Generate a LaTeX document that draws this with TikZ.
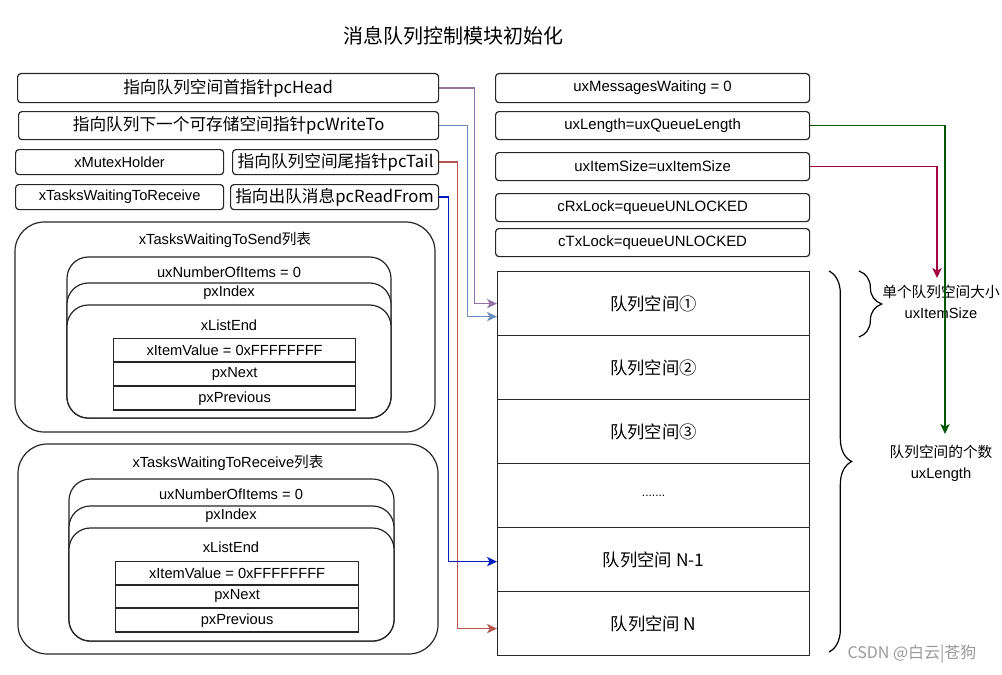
\documentclass[tikz,border=0pt]{standalone}
\usepackage{fontspec}
\setmainfont{Liberation Sans}
\newfontfamily\cjk{Noto Sans CJK SC}
\usetikzlibrary{arrows.meta,decorations.pathreplacing}

\definecolor{cpurple}{HTML}{9673A6}
\definecolor{cblue}{HTML}{6C8EBF}
\definecolor{cred}{HTML}{B85450}
\definecolor{cdblue}{HTML}{001DBC}
\definecolor{cgreen}{HTML}{005700}
\definecolor{ccrimson}{HTML}{A50040}

\begin{document}
\begin{tikzpicture}[x=0.75pt,y=0.75pt,yscale=-1,xscale=1,
  ptrbox/.style={draw=black!85,line width=0.9pt,rounded corners=2.5pt,inner sep=0pt,anchor=north west,font=\cjk\fontsize{12.5}{14}\selectfont},
  fldbox/.style={draw=black!85,line width=0.9pt,rounded corners=2.5pt,inner sep=0pt,anchor=north west,minimum width=235.5pt,minimum height=21pt,font=\fontsize{11.2}{13}\selectfont},
  qcell/.style={draw=black!85,line width=0.9pt,inner sep=0pt,anchor=north west,minimum width=234pt,minimum height=48pt,font=\cjk\fontsize{13}{15}\selectfont},
  itemrow/.style={draw=black!85,line width=0.9pt,inner sep=0pt,anchor=north west,minimum height=17.6pt,font=\fontsize{11}{13}\selectfont},
  lbl/.style={inner sep=0pt,font=\fontsize{11}{13}\selectfont},
  ptrlink/.style={line width=1pt,-{Stealth[length=7.5pt,width=7pt,inset=2pt]}}
]
\useasboundingbox (0,0) rectangle (1002,674);

%Title
\node (title) at (453,36) {\cjk\fontsize{15}{17}\selectfont 消息队列控制模块初始化};

%Pointer boxes
\node[ptrbox,minimum width=315.75pt,minimum height=21.75pt] (head) at (17,73) {指向队列空间首指针pcHead};
\node[ptrbox,minimum width=315pt,minimum height=21pt] (wrto) at (18,111) {指向队列下一个可存储空间指针pcWriteTo};
\node[ptrbox,minimum width=156pt,minimum height=18.75pt,font=\fontsize{11}{13}\selectfont] (mutex) at (15,149) {xMutexHolder};
\node[ptrbox,minimum width=154.5pt,minimum height=18.75pt] (tail) at (232,149) {指向队列空间尾指针pcTail};
\node[ptrbox,minimum width=156pt,minimum height=18.75pt,font=\fontsize{11}{13}\selectfont] (rcv) at (15,184) {xTasksWaitingToReceive};
\node[ptrbox,minimum width=156pt,minimum height=18.75pt] (rdfrom) at (230,184) {指向出队消息pcReadFrom};

%Field boxes
\node[fldbox,minimum height=21.75pt] (msg) at (495,73) {uxMessagesWaiting = 0};
\node[fldbox] (len) at (495,111) {uxLength=uxQueueLength};
\node[fldbox] (isz) at (495,152) {uxItemSize=uxItemSize};
\node[fldbox] (rxl) at (495,193) {cRxLock=queueUNLOCKED};
\node[fldbox] (txl) at (495,228) {cTxLock=queueUNLOCKED};

%Queue storage
\node[qcell] (q1) at (497,271) {队列空间①};
\node[qcell] (q2) at (497,335) {队列空间②};
\node[qcell] (q3) at (497,399) {队列空间③};
\node[qcell,font=\fontsize{9}{11}\selectfont] (q4) at (497,463) {.......};
\node[qcell] (q5) at (497,527) {队列空间 N-1};
\node[qcell] (q6) at (497,591) {队列空间 N};

%Send list
\draw[line width=0.9pt,draw=black!85,rounded corners=22pt] (15,222) rectangle (435,432);
\node[lbl] (sndttl) at (225,240) {xTasksWaitingToSend{\cjk 列表}};
\draw[line width=0.9pt,draw=black!85,fill=white,rounded corners=16pt] (67,257) rectangle (391,418);
\draw[line width=0.9pt,draw=black!85,fill=white,rounded corners=16pt] (67,283) rectangle (391,418);
\draw[line width=0.9pt,draw=black!85,fill=white,rounded corners=16pt] (67,305) rectangle (391,418);
\node[lbl] (sndnum) at (229,272) {uxNumberOfItems = 0};
\node[lbl] (sndidx) at (229,293) {pxIndex};
\node[lbl] (sndend) at (229,325) {xListEnd};
\node[itemrow,minimum width=181.5pt] (sndval) at (113,338) {xItemValue = 0xFFFFFFFF};
\node[itemrow,minimum width=181.5pt] (sndnext) at (113,362) {pxNext};
\node[itemrow,minimum width=181.5pt] (sndprev) at (113,386) {pxPrevious};

%Receive list
\draw[line width=0.9pt,draw=black!85,rounded corners=22pt] (18,444) rectangle (438,654);
\node[lbl] (rcvttl) at (228,463) {xTasksWaitingToReceive{\cjk 列表}};
\draw[line width=0.9pt,draw=black!85,fill=white,rounded corners=16pt] (69,479) rectangle (394,641);
\draw[line width=0.9pt,draw=black!85,fill=white,rounded corners=16pt] (69,506) rectangle (394,641);
\draw[line width=0.9pt,draw=black!85,fill=white,rounded corners=16pt] (69,528) rectangle (394,641);
\node[lbl] (rcvnum) at (231,494) {uxNumberOfItems = 0};
\node[lbl] (rcvidx) at (231,516) {pxIndex};
\node[lbl] (rcvend) at (231,547) {xListEnd};
\node[itemrow,minimum width=182.25pt] (rcvval) at (115,561) {xItemValue = 0xFFFFFFFF};
\node[itemrow,minimum width=182.25pt] (rcvnext) at (115,584) {pxNext};
\node[itemrow,minimum width=182.25pt] (rcvprev) at (115,608) {pxPrevious};

%Braces and notes
\draw[line width=0.9pt,decorate,decoration={brace,amplitude=17pt}] (829,271) -- (829,652);
\draw[line width=0.9pt,decorate,decoration={brace,amplitude=17pt}] (859,271) -- (859,337);
\node[lbl,align=center,font=\fontsize{11}{15.75}\selectfont] (sizelbl) at (941,302) {{\cjk 单个队列空间大小}\\uxItemSize};
\node[lbl,align=center,font=\fontsize{11}{15.75}\selectfont] (cntlbl) at (941,463) {{\cjk 队列空间的个数}\\uxLength};

%Pointer lines
\draw[ptrlink,cpurple] (head.east) -- ++(35,0) |- (q1.west);
\draw[ptrlink,cblue] (wrto.east) -- ++(28,0) |- ([yshift=9.75pt]q1.west);
\draw[ptrlink,cred] (tail.east) -- ++(18,0) |- ([yshift=3.75pt]q6.west);
\draw[ptrlink,cdblue] (rdfrom.east) -- ++(9,0) |- ([yshift=1.5pt]q5.west);
\coordinate (szend) at (937,278);
\coordinate (lenend) at (945,434);
\draw[ptrlink,ccrimson] (isz.east) -| (szend);
\draw[ptrlink,cgreen] (len.east) -| (lenend);

%Watermark
\node[text=black!40,inner sep=0pt] (mark) at (912,654) {\cjk\fontsize{12}{14}\selectfont CSDN @白云|苍狗};
\end{tikzpicture}
\end{document}
